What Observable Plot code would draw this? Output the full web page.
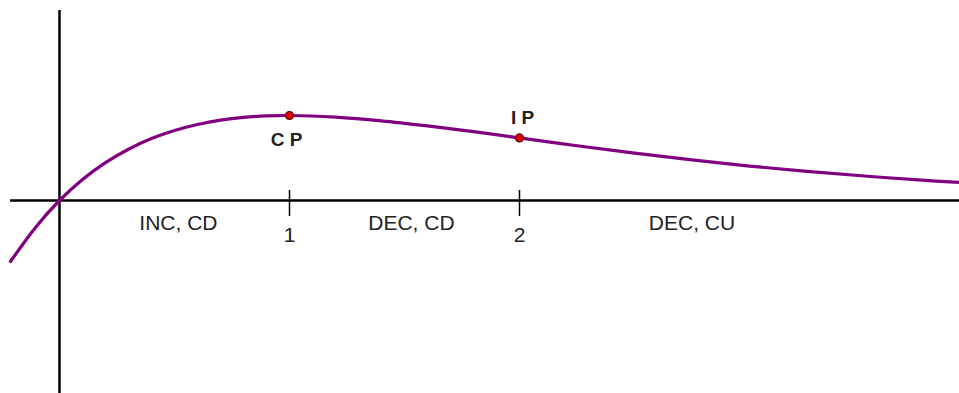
<!DOCTYPE html>
<html>
<head>
<meta charset="utf-8">
<script src="https://cdn.jsdelivr.net/npm/d3@7"></script>
<script src="https://cdn.jsdelivr.net/npm/@observablehq/plot@0.6"></script>
<style>
  html, body { margin: 0; padding: 0; background: #fff; }
</style>
</head>
<body>
<div id="chart"></div>
<script>
// Curve values
const curveX = [-0.213, -0.1, 0, 0.1, 0.2, 0.3, 0.4, 0.5, 0.6, 0.7, 0.8, 0.9, 1.0, 1.2, 1.4, 1.6, 1.8, 2.0, 2.25, 2.5, 2.75, 3.0, 3.25, 3.5, 3.75, 3.913];
const curveY = [-0.264, -0.111, 0, 0.091, 0.164, 0.222, 0.268, 0.303, 0.329, 0.348, 0.360, 0.366, 0.368, 0.361, 0.345, 0.323, 0.298, 0.271, 0.237, 0.205, 0.176, 0.149, 0.126, 0.106, 0.088, 0.078];

// Special points
const pointX = [1, 2];
const pointY = [0.368, 0.271];
const pointLabels = ["C P", "I P"];
const pointLabelX = [0.987, 2.013];
const pointLabelY = [0.262, 0.359];

// Axis ticks
const tickValues = [1, 2];
const tickLabels = ["1", "2"];

// Region annotations
const regionLabels = ["INC, CD", "DEC, CD", "DEC, CU"];
const regionX = [0.517, 1.53, 2.75];

const curve = curveX.map((x, i) => ({x, y: curveY[i]}));
const pts = pointX.map((x, i) => ({x, y: pointY[i]}));
const ptLabels = pointLabels.map((t, i) => ({t, x: pointLabelX[i], y: pointLabelY[i]}));
const ticks = tickValues.map((x, i) => ({x, t: tickLabels[i]}));
const regions = regionLabels.map((t, i) => ({t, x: regionX[i]}));

const font = "'Liberation Sans', Arial, sans-serif";

const chart = Plot.plot({
  width: 959,
  height: 393,
  marginTop: 0, marginRight: 0, marginBottom: 0, marginLeft: 0,
  x: {domain: [-59/230, 900/230], axis: null},
  y: {domain: [-193/231, 200/231], axis: null},
  style: {background: "#fff", fontFamily: font},
  marks: [
    Plot.ruleY([0], {x1: -49/230, x2: 900/230, stroke: "#000", strokeWidth: 2.5}),
    Plot.ruleX([0], {y1: -193/231, y2: 190/231, stroke: "#000", strokeWidth: 2.5}),
    Plot.ruleX(ticks, {x: "x", y1: 10/231, y2: -16/231, stroke: "#000", strokeWidth: 1.5}),
    Plot.text(ticks, {x: "x", y: -35/231, text: "t", fontSize: 21, fill: "#222"}),
    Plot.text(regions, {x: "x", y: -23/231, text: "t", fontSize: 21, fill: "#222"}),
    Plot.line(curve, {x: "x", y: "y", stroke: "#800080", strokeWidth: 3.2, curve: "catmull-rom"}),
    Plot.dot(pts, {x: "x", y: "y", r: 4, fill: "#e00000", stroke: "#500", strokeWidth: 1.2}),
    Plot.text(ptLabels, {x: "x", y: "y", text: "t", fontSize: 19, fontWeight: "bold", fill: "#222"})
  ]
});
document.getElementById("chart").appendChild(chart);
</script>
</body>
</html>
